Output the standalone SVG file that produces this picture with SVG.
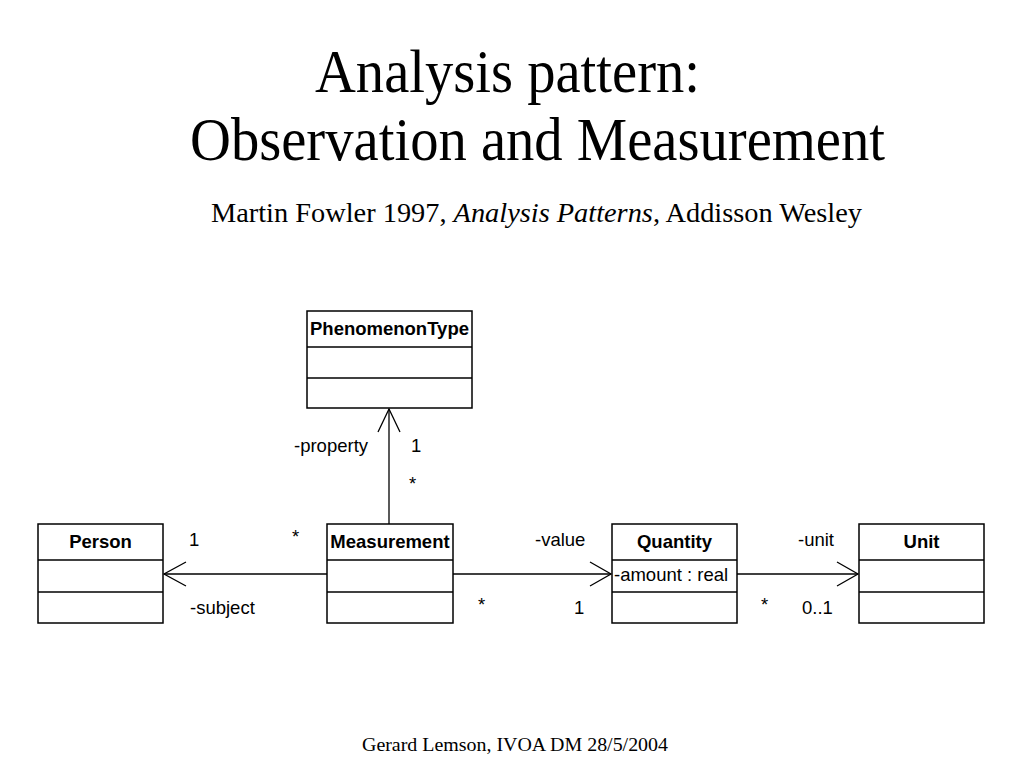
<svg xmlns="http://www.w3.org/2000/svg" width="1024" height="768" viewBox="0 0 1024 768">
<style>
.box{fill:#fff;stroke:#000;stroke-width:1.5}
.div{stroke:#000;stroke-width:1.5}
.cn{font-family:"Liberation Sans",Arial,sans-serif;font-size:18.5px;font-weight:bold;text-anchor:middle}
.lb{font-family:"Liberation Sans",Arial,sans-serif;font-size:18.5px}
.ln{fill:none;stroke:#000;stroke-width:1.3}
.ti{font-family:"Liberation Serif","Times New Roman",serif}
</style>
<rect width="1024" height="768" fill="#fff"/>
<g id="title">
<text class="ti" x="315" y="92" font-size="61" textLength="385" lengthAdjust="spacingAndGlyphs">Analysis pattern:</text>
<text class="ti" x="190" y="160" font-size="61" textLength="695" lengthAdjust="spacingAndGlyphs">Observation and Measurement</text>
<text class="ti" x="211" y="222" font-size="27" textLength="651" lengthAdjust="spacingAndGlyphs">Martin Fowler 1997, <tspan font-style="italic">Analysis Patterns</tspan>, Addisson Wesley</text>
<text class="ti" x="362" y="751" font-size="19" textLength="306" lengthAdjust="spacingAndGlyphs">Gerard Lemson, IVOA DM 28/5/2004</text>
</g>
<g id="connectors">
<line class="ln" x1="389" y1="524" x2="389" y2="409"/>
<polyline class="ln" points="378,432 389,409 400,432"/>
<line class="ln" x1="327" y1="574" x2="164" y2="574"/>
<polyline class="ln" points="186,562 164,574 186,586"/>
<line class="ln" x1="453" y1="574" x2="611" y2="574"/>
<polyline class="ln" points="590,562 611,574 590,586"/>
<line class="ln" x1="737" y1="574" x2="858" y2="574"/>
<polyline class="ln" points="837,562 858,574 837,586"/>
<text class="lb" x="294" y="452">-property</text>
<text class="lb" x="411" y="452">1</text>
<text class="lb" x="409" y="490">*</text>
<text class="lb" x="189" y="546">1</text>
<text class="lb" x="292" y="543">*</text>
<text class="lb" x="190" y="614">-subject</text>
<text class="lb" x="478" y="611">*</text>
<text class="lb" x="535" y="546">-value</text>
<text class="lb" x="574" y="614">1</text>
<text class="lb" x="798" y="546">-unit</text>
<text class="lb" x="761" y="611">*</text>
<text class="lb" x="802" y="614">0..1</text>
</g>
<g id="PhenomenonType">
<rect class="box" x="307" y="311" width="165" height="97"/>
<line class="div" x1="307" y1="347" x2="472" y2="347"/>
<line class="div" x1="307" y1="378" x2="472" y2="378"/>
<text class="cn" x="389.5" y="335">PhenomenonType</text>
</g>
<g id="Person">
<rect class="box" x="38" y="524" width="125" height="99"/>
<line class="div" x1="38" y1="560" x2="163" y2="560"/>
<line class="div" x1="38" y1="592" x2="163" y2="592"/>
<text class="cn" x="100.5" y="548">Person</text>
</g>
<g id="Measurement">
<rect class="box" x="327" y="524" width="126" height="99"/>
<line class="div" x1="327" y1="560" x2="453" y2="560"/>
<line class="div" x1="327" y1="592" x2="453" y2="592"/>
<text class="cn" x="390" y="548">Measurement</text>
</g>
<g id="Quantity">
<rect class="box" x="612" y="524" width="125" height="99"/>
<line class="div" x1="612" y1="560" x2="737" y2="560"/>
<line class="div" x1="612" y1="592" x2="737" y2="592"/>
<text class="cn" x="674.5" y="548">Quantity</text>
<text class="lb" x="614" y="581">-amount : real</text>
</g>
<g id="Unit">
<rect class="box" x="859" y="524" width="125" height="99"/>
<line class="div" x1="859" y1="560" x2="984" y2="560"/>
<line class="div" x1="859" y1="592" x2="984" y2="592"/>
<text class="cn" x="921.5" y="548">Unit</text>
</g>
</svg>
